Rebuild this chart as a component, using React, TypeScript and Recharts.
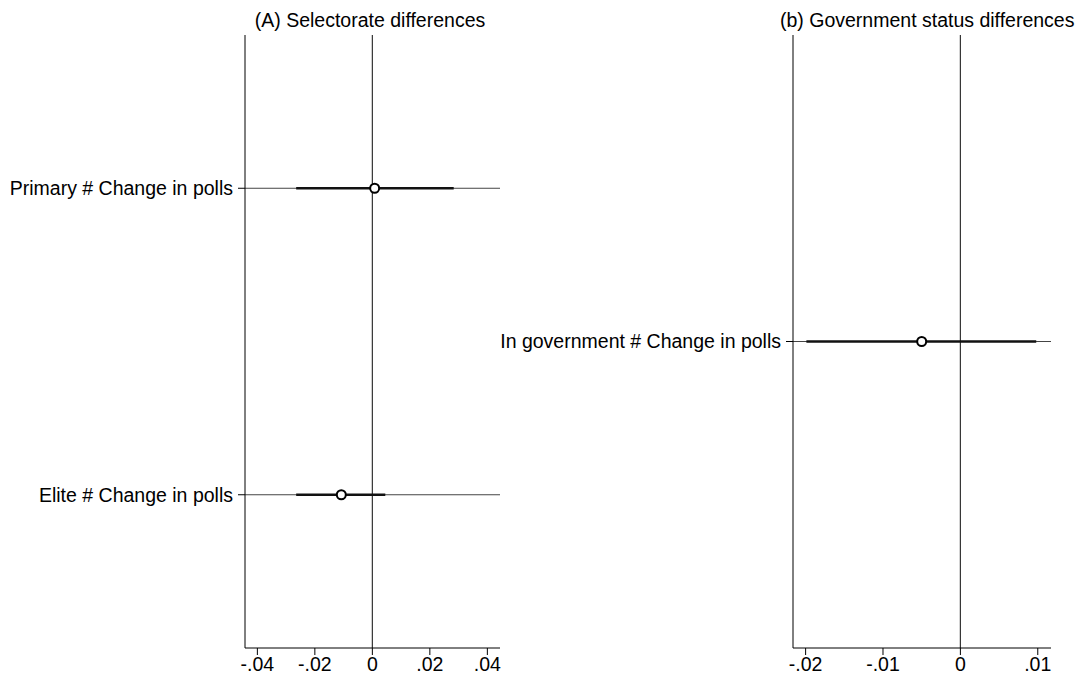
import React from 'react'
import { ScatterChart, Scatter, XAxis, YAxis, ErrorBar, ReferenceLine } from 'recharts'

// panel A: selectorate
const selLabels = ['Primary # Change in polls', 'Elite # Change in polls']
const selEst = [0.0008, -0.0108]
const selLo90 = [-0.0265, -0.0265]
const selHi90 = [0.0283, 0.0045]
const selLo95 = [-0.06, -0.06]
const selHi95 = [0.06, 0.06]
const selTicks = [-0.04, -0.02, 0, 0.02, 0.04]

// panel B: government status
const govLabels = ['In government # Change in polls']
const govEst = [-0.005]
const govLo90 = [-0.0199]
const govHi90 = [0.0098]
const govLo95 = [-0.03]
const govHi95 = [0.02]
const govTicks = [-0.02, -0.01, 0, 0.01]

const FONT = '"Liberation Sans", Arial, Helvetica, sans-serif'

const fmt = (v: number) => (v === 0 ? '0' : v.toFixed(2).replace('0.', '.'))

const Dot = (props: any) => (
  <circle cx={props.cx} cy={props.cy} r={4.5} fill="#fff" stroke="#000" strokeWidth={2} />
)

type PanelProps = {
  labels: string[]
  est: number[]
  lo90: number[]
  hi90: number[]
  lo95: number[]
  hi95: number[]
  ticks: number[]
  domain: [number, number]
  width: number
  yAxisWidth: number
  right: number
}

const Panel: React.FC<PanelProps> = ({ labels, est, lo90, hi90, lo95, hi95, ticks, domain, width, yAxisWidth, right }) => {
  const data = est.map((e, i) => ({
    row: i + 1,
    est: e,
    ci: [e - lo90[i], hi90[i] - e],
  }))
  return (
    <ScatterChart width={width} height={680} margin={{ top: 35, right, bottom: 2, left: 0 }}>
      <XAxis
        type="number"
        dataKey="est"
        domain={domain}
        allowDataOverflow
        ticks={ticks}
        tickFormatter={fmt}
        height={30}
        tickSize={7}
        tickMargin={2}
        stroke="#000"
        tick={{ fill: '#000', fontSize: 19.5, fontFamily: FONT }}
      />
      <YAxis
        type="number"
        dataKey="row"
        domain={[0.5, labels.length + 0.5]}
        ticks={labels.map((_, i) => i + 1)}
        tickFormatter={(v: number) => labels[v - 1] ?? ''}
        reversed
        width={yAxisWidth}
        tickSize={7}
        tickMargin={5}
        stroke="#000"
        tick={{ fill: '#000', fontSize: 19.5, fontFamily: FONT }}
      />
      <ReferenceLine x={0} stroke="#333" strokeWidth={1.2} />
      {data.map((d, i) => (
        <ReferenceLine
          key={i}
          segment={[{ x: lo95[i], y: d.row }, { x: hi95[i], y: d.row }]}
          ifOverflow="hidden"
          stroke="#444"
          strokeWidth={1}
        />
      ))}
      <Scatter data={data} shape={Dot} isAnimationActive={false}>
        <ErrorBar dataKey="ci" direction="x" width={0} stroke="#111" strokeWidth={2.5} />
      </Scatter>
    </ScatterChart>
  )
}

const titleStyle: React.CSSProperties = {
  position: 'absolute',
  top: 9,
  fontFamily: FONT,
  fontSize: 19.5,
  lineHeight: '22px',
  color: '#000',
  textAlign: 'center',
  whiteSpace: 'nowrap',
}

export default function App() {
  return (
    <div style={{ position: 'absolute', left: 0, top: 0, width: 1075, height: 680, background: '#fff' }}>
      <div style={{ ...titleStyle, left: 240, width: 260 }}>(A) Selectorate differences</div>
      <div style={{ ...titleStyle, left: 780, width: 290 }}>(b) Government status differences</div>
      <div style={{ position: 'absolute', left: 0, top: 0 }}>
        <Panel
          labels={selLabels}
          est={selEst}
          lo90={selLo90}
          hi90={selHi90}
          lo95={selLo95}
          hi95={selHi95}
          ticks={selTicks}
          domain={[-0.0443, 0.0444]}
          width={510}
          yAxisWidth={245}
          right={10}
        />
      </div>
      <div style={{ position: 'absolute', left: 480, top: 0 }}>
        <Panel
          labels={govLabels}
          est={govEst}
          lo90={govLo90}
          hi90={govHi90}
          lo95={govLo95}
          hi95={govHi95}
          ticks={govTicks}
          domain={[-0.02163, 0.01171]}
          width={595}
          yAxisWidth={313}
          right={24}
        />
      </div>
    </div>
  )
}
